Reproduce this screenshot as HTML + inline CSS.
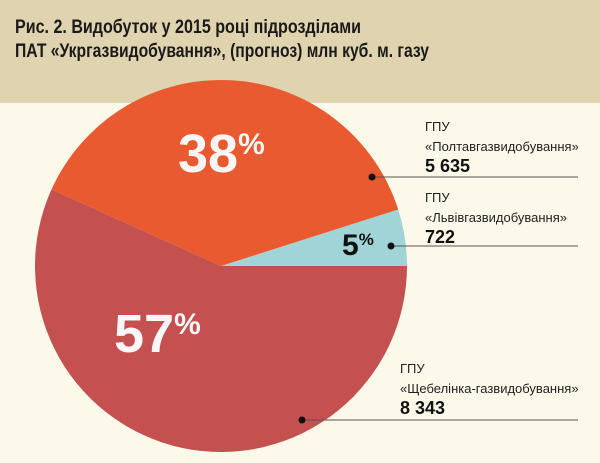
<!DOCTYPE html>
<html><head><meta charset="utf-8"><style>
body{margin:0;width:600px;height:463px;overflow:hidden;background:#fdf9ea;font-family:"Liberation Sans","DejaVu Sans",sans-serif}
</style></head><body>
<svg width="600" height="463" viewBox="0 0 600 463" style="position:absolute;left:0;top:0">
<rect x="0" y="0" width="600" height="103" fill="#e0d3af"/>
<text x="15" y="33" font-size="19" font-weight="bold" fill="#1a1a1a" textLength="346" lengthAdjust="spacingAndGlyphs">Рис. 2. Видобуток у 2015 році підрозділами</text>
<text x="15" y="57" font-size="19" font-weight="bold" fill="#1a1a1a" textLength="414" lengthAdjust="spacingAndGlyphs">ПАТ «Укргазвидобування», (прогноз) млн куб. м. газу</text>
<g id="slices"></g>
<g id="labels"></g>
</svg>
<script>
const names=["ГПУ «Львівгазвидобування»","ГПУ «Полтавгазвидобування»","ГПУ «Щебелінка-газвидобування»"];
const values=[722,5635,8343];
const valueLabels=["722","5 635","8 343"];
const pctLabels=["5","38","57"];
const colors=["#a0d4d6","#e95a30","#c45150"];
const ns="http://www.w3.org/2000/svg";
const cx=221,cy=266,r=186;
const total=values.reduce((a,b)=>a+b,0);
const sg=document.getElementById('slices');
const lg=document.getElementById('labels');
function mk(t,a,p){const e=document.createElementNS(ns,t);for(const k in a)e.setAttribute(k,a[k]);(p||sg).appendChild(e);return e;}
let a0=0;
values.forEach((v,i)=>{
  const a1=a0+v/total*2*Math.PI;
  const x0=cx+r*Math.cos(a0),y0=cy-r*Math.sin(a0),x1=cx+r*Math.cos(a1),y1=cy-r*Math.sin(a1);
  const large=(a1-a0)>Math.PI?1:0;
  const p=mk('path',{d:`M${cx},${cy}L${x0},${y0}A${r},${r} 0 ${large} 0 ${x1},${y1}Z`,fill:colors[i]});
  
  
  a0=a1;
});
const pctStyle=[[30,'#111'],[54,'#f7f7f7'],[54,'#f7f7f7']];
const pctAnchor=[[342,255],[178,172],[114,352]];
pctLabels.forEach((t,i)=>{
  const sz=pctStyle[i][0];
  const tx=mk('text',{x:pctAnchor[i][0],y:pctAnchor[i][1],'font-size':sz,'font-weight':'bold',fill:pctStyle[i][1]},lg);
  
  
  tx.textContent=t;
  const ts=mk('tspan',{'font-size':Math.round(sz*0.55),dy:-sz*0.33},tx);
  ts.textContent='%';
});
const call=[{dot:[391,246],tx:425,ty:202},{dot:[372,177],tx:425,ty:131},{dot:[302,420],tx:400,ty:373}];
[1,0,2].forEach(i=>{
  const c=call[i];
  const ln=mk('line',{x1:c.dot[0],y1:c.dot[1],x2:578,y2:c.dot[1],stroke:'#555','stroke-width':1},lg);
  
  
  const d=mk('circle',{cx:c.dot[0],cy:c.dot[1],r:3.5,fill:'#111'},lg);
  
  
  const parts=names[i].split(' ');
  const t1=mk('text',{x:c.tx,y:c.ty,'font-size':13,fill:'#222'},lg);
  
  
  t1.textContent=parts[0];
  const t2=mk('text',{x:c.tx,y:c.ty+20,'font-size':13,fill:'#222'},lg);
  
  
  t2.textContent=parts.slice(1).join(' ');
  const t3=mk('text',{x:c.tx,y:c.ty+41,'font-size':18,'font-weight':'bold',fill:'#111'},lg);
  
  
  t3.textContent=valueLabels[i];
});
</script>
</body></html>
